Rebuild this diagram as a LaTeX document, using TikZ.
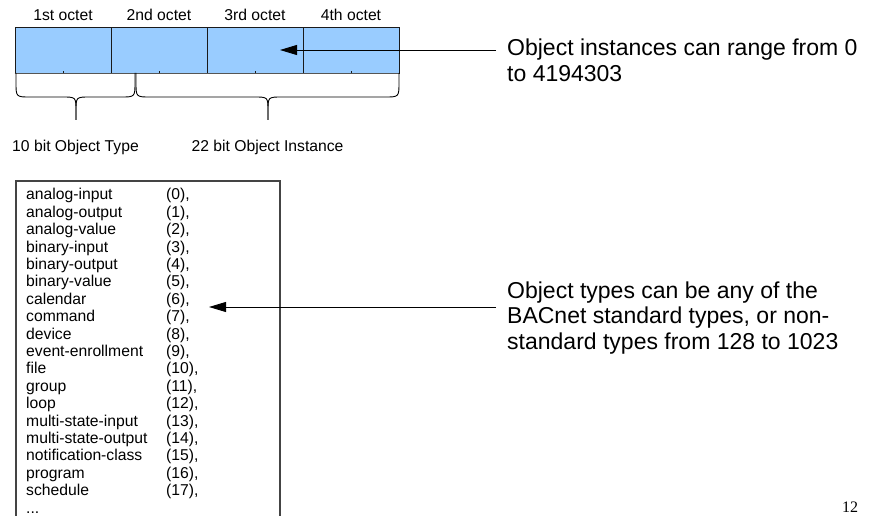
\documentclass[tikz,border=0pt]{standalone}
\usepackage{fontspec}
\setmainfont{Liberation Sans}
\newfontfamily\pagenumfont{Liberation Serif}
\usetikzlibrary{arrows.meta}
\definecolor{barblue}{HTML}{99CCFF}
\definecolor{celledge}{HTML}{1A1A1A}
\definecolor{boxedge}{HTML}{444444}
\definecolor{baredge}{HTML}{555555}
\begin{document}
\begin{tikzpicture}[x=1pt,y=-1pt,
  small/.style={font=\fontsize{15.7}{17.4}\selectfont, inner sep=0pt},
  big/.style={font=\fontsize{23}{25.8}\selectfont, inner sep=0pt},
  cell/.style={draw=celledge, fill=barblue, line width=0.9pt, minimum width=96pt, minimum height=46pt, inner sep=0pt},
  pointer/.style={draw=black, line width=0.9pt, -{Triangle[length=17pt,width=10pt]}},
  bracepath/.style={draw=black, line width=0.9pt},
  listbox/.style={draw=boxedge, line width=1.2pt},
]
\useasboundingbox (0,0) rectangle (873,516);

% octet bar
\node[cell] (o1) at (63,50) {};
\node[cell] (o2) at (159,50) {};
\node[cell] (o3) at (255,50) {};
\node[cell] (o4) at (351,50) {};
\draw[draw=baredge, line width=1.6pt] (o1.south west) -- (o4.south east);
\foreach \c in {o1,o2,o3,o4} \draw[draw=celledge, line width=0.8pt] (\c.south) -- ++(0,-2.5);

% octet labels
\node[small, anchor=base] (l1) at (63,20.5) {1st octet};
\node[small, anchor=base] (l2) at (159,20.5) {2nd octet};
\node[small, anchor=base] (l3) at (255,20.5) {3rd octet};
\node[small, anchor=base] (l4) at (351,20.5) {4th octet};

% braces
\draw[bracepath] (16,73) -- (16,82) .. controls (16,97) .. (30,97) -- (62,97)
  .. controls (76,97) .. (76,111) -- (76,120);
\draw[bracepath] (76,120) -- (76,111) .. controls (76,97) .. (90,97) -- (121,97)
  .. controls (135,97) .. (135,82) -- (135,73);
\draw[bracepath] (136,73) -- (136,82) .. controls (136,97) .. (150,97) -- (254,97)
  .. controls (268,97) .. (268,111) -- (268,120);
\draw[bracepath] (268,120) -- (268,111) .. controls (268,97) .. (282,97) -- (385,97)
  .. controls (399,97) .. (399,82) -- (399,73);

% brace labels
\node[small, anchor=base] (typelab) at (75.5,151.5) {10 bit Object Type};
\node[small, anchor=base] (instlab) at (267.5,151.5) {22 bit Object Instance};

% list box
\draw[listbox] (16,530) -- (16,181) -- (280,181) -- (280,530);
\node[small, anchor=base west] (list) at (26,200) {%
\begin{tabular}[t]{@{}p{140pt}@{}l@{}}
analog-input & (0),\\
analog-output & (1),\\
analog-value & (2),\\
binary-input & (3),\\
binary-output & (4),\\
binary-value & (5),\\
calendar & (6),\\
command & (7),\\
device & (8),\\
event-enrollment & (9),\\
file & (10),\\
group & (11),\\
loop & (12),\\
multi-state-input & (13),\\
multi-state-output & (14),\\
notification-class & (15),\\
program & (16),\\
schedule & (17),\\
... &
\end{tabular}};

% right texts
\node[big, anchor=base west] (insttxt) at (507,55.5) {%
\begin{tabular}[t]{@{}l@{}}
Object instances can range from 0\\
to 4194303
\end{tabular}};
\node[big, anchor=base west] (typetxt) at (507,298) {%
\begin{tabular}[t]{@{}l@{}}
Object types can be any of the\\
BACnet standard types, or non-\\
standard types from 128 to 1023
\end{tabular}};

% pointers
\coordinate (a1start) at (496,50);
\coordinate (a1tip) at (280,50);
\draw[pointer] (a1start) -- (a1tip);
\coordinate (a2start) at (496,307);
\coordinate (a2tip) at (209,307);
\draw[pointer] (a2start) -- (a2tip);

% page number
\node[font=\pagenumfont\fontsize{16}{16}\selectfont, anchor=base west, inner sep=0pt] (pagenum) at (842,512.5) {12};
\end{tikzpicture}
\end{document}
